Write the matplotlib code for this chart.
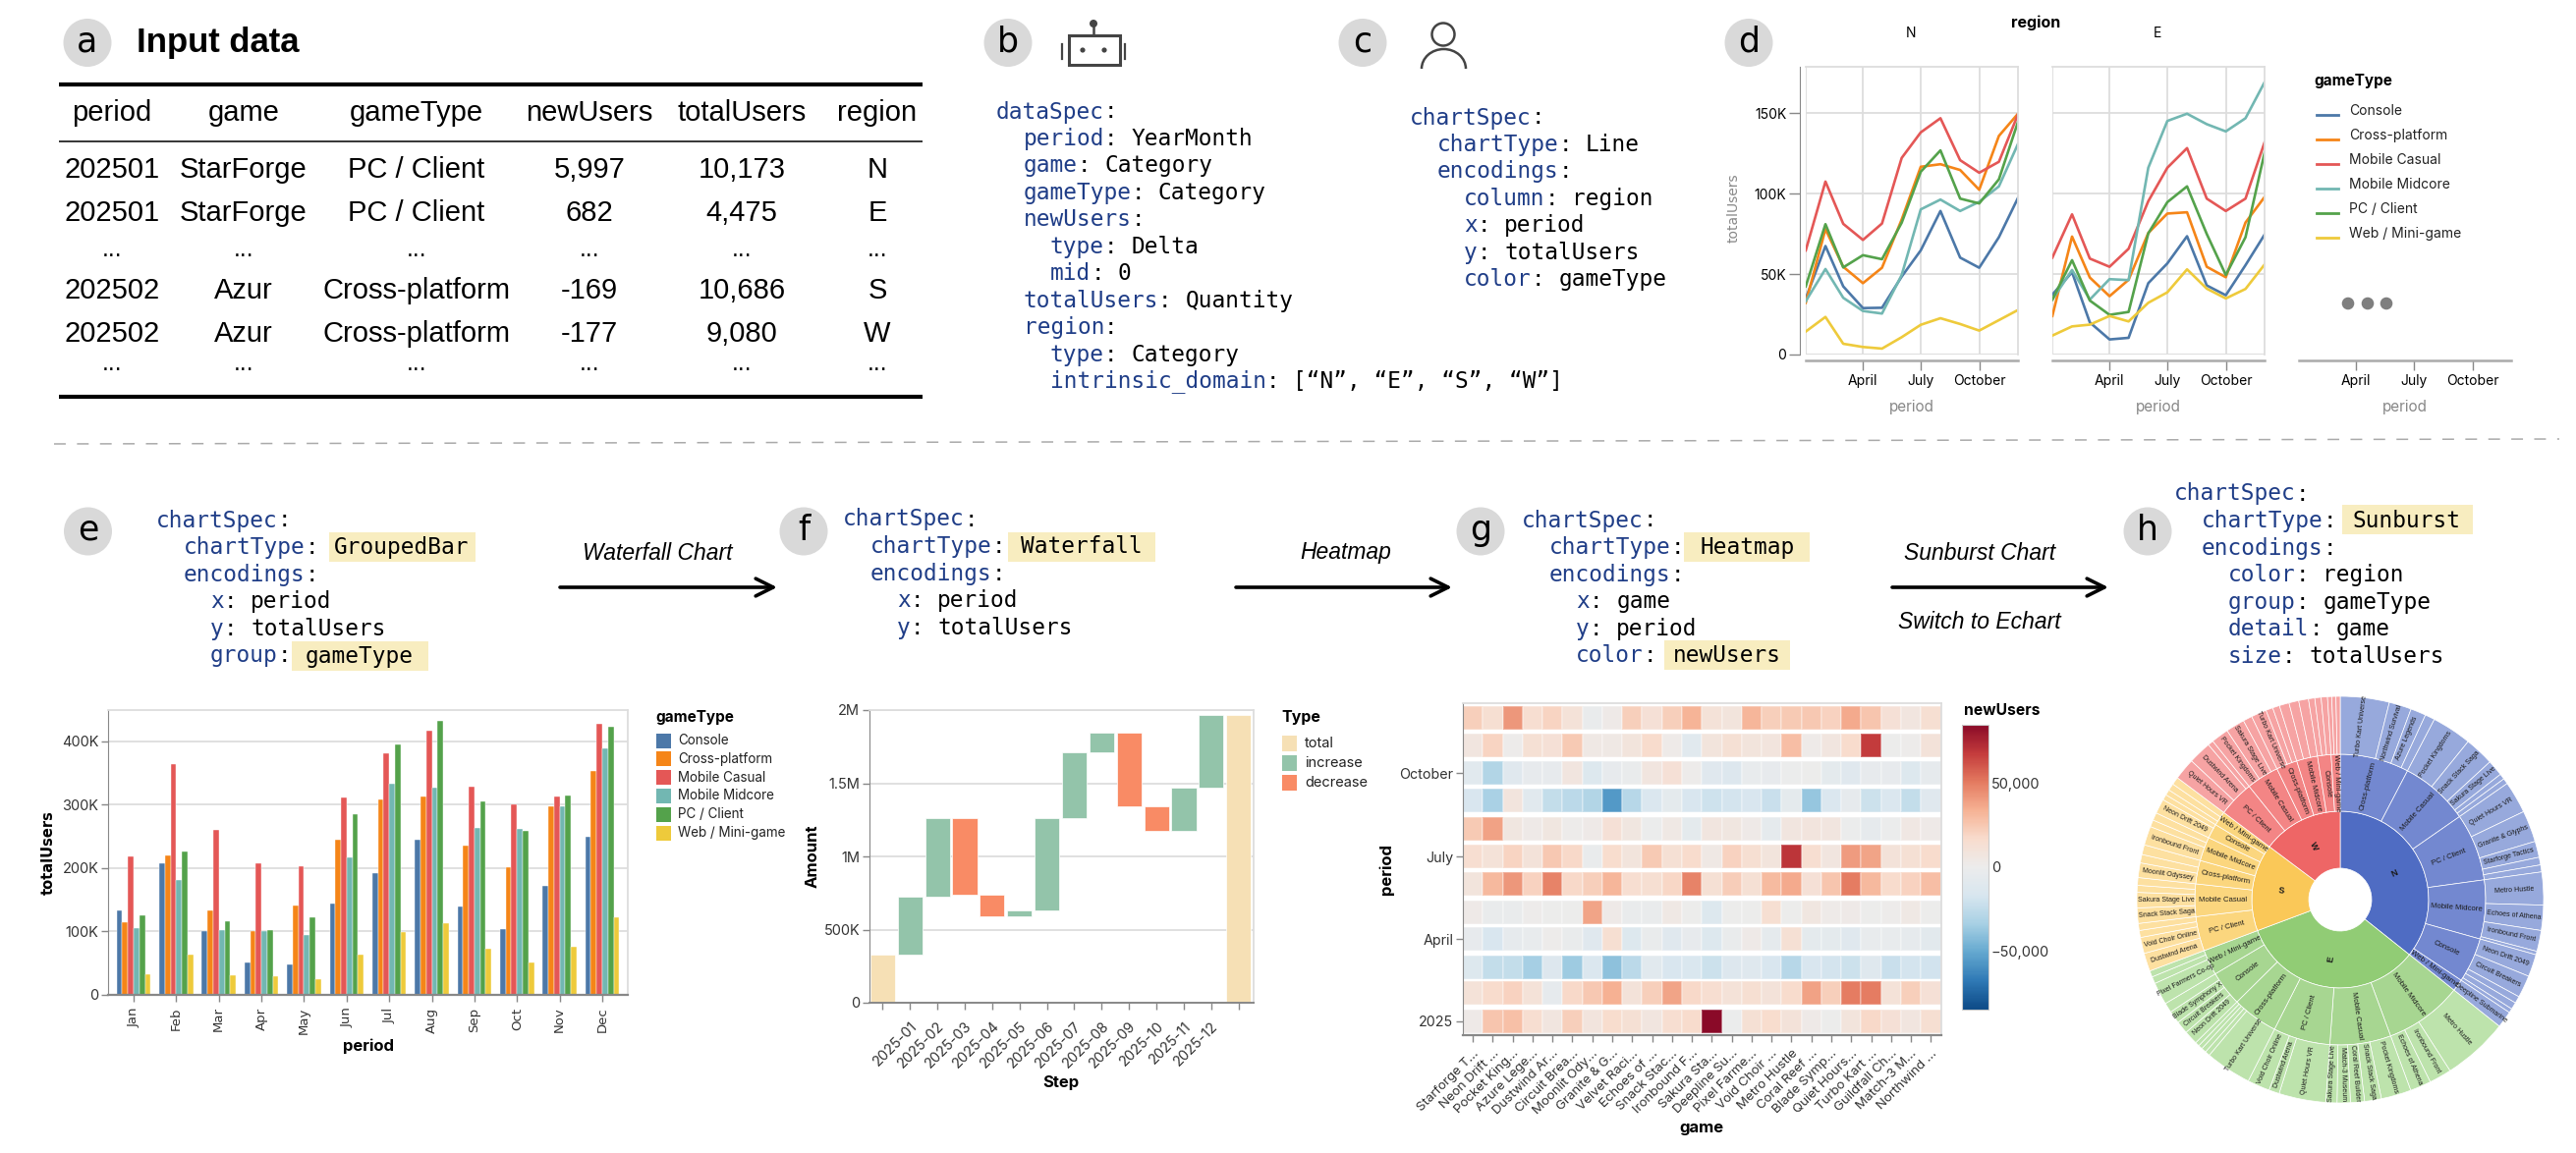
import numpy as np
import matplotlib
matplotlib.use("Agg")
from matplotlib import pyplot as plt
from matplotlib.patches import Circle, Rectangle, Arc
from matplotlib.colors import LinearSegmentedColormap, Normalize
from matplotlib.cm import ScalarMappable

W, H = 2622, 1174
plt.rcParams['font.family'] = ['Inter', 'DejaVu Sans']

# shared
month_days = [0, 31, 59, 90, 120, 151, 181, 212, 243, 273, 304, 334]
month_names = ["Jan", "Feb", "Mar", "Apr", "May", "Jun", "Jul", "Aug", "Sep", "Oct", "Nov", "Dec"]
game_types = ["Console", "Cross-platform", "Mobile Casual", "Mobile Midcore", "PC / Client", "Web / Mini-game"]
type_colors = ["#4c78a8", "#f58518", "#e45756", "#72b7b2", "#54a24b", "#eeca3b"]

# panel a
table_header = ["period", "game", "gameType", "newUsers", "totalUsers", "region"]
table_rows = [
    ["202501", "StarForge", "PC / Client", "5,997", "10,173", "N"],
    ["202501", "StarForge", "PC / Client", "682", "4,475", "E"],
    ["...", "...", "...", "...", "...", "..."],
    ["202502", "Azur", "Cross-platform", "-169", "10,686", "S"],
    ["202502", "Azur", "Cross-platform", "-177", "9,080", "W"],
    ["...", "...", "...", "...", "...", "..."],
]

# panel d, totalUsers in thousands
line_n = [
    [34.9, 67.5, 42.4, 28.9, 29.1, 48.5, 64.8, 89.3, 60.3, 54.0, 73.0, 97.4],
    [32.2, 78.0, 54.6, 44.4, 54.0, 84.0, 116.8, 118.4, 114.8, 102.5, 136.0, 149.8],
    [64.8, 107.6, 81.3, 71.3, 81.5, 122.3, 138.2, 147.0, 120.9, 113.1, 119.9, 149.4],
    [33.2, 53.2, 35.3, 27.1, 25.5, 49.5, 90.3, 96.4, 89.3, 95.0, 104.6, 131.0],
    [42.4, 81.1, 54.2, 61.8, 59.3, 82.0, 113.7, 127.0, 97.0, 94.0, 109.0, 144.7],
    [14.3, 23.4, 6.7, 4.7, 3.7, 10.8, 18.5, 22.6, 19.0, 14.9, 21.4, 27.7],
]
line_e = [
    [37.3, 51.2, 20.0, 9.4, 10.4, 44.4, 56.7, 73.6, 43.0, 36.9, 55.6, 74.6],
    [24.0, 73.4, 47.9, 36.3, 46.5, 75.6, 87.7, 88.5, 54.6, 48.1, 82.1, 98.0],
    [60.3, 87.2, 59.7, 54.6, 65.8, 95.4, 116.2, 128.4, 97.0, 89.3, 97.0, 132.0],
    [34.2, 52.6, 34.2, 46.9, 46.3, 116.2, 145.3, 149.8, 143.3, 138.8, 147.0, 169.4],
    [34.2, 58.7, 33.6, 24.7, 26.5, 75.4, 94.8, 104.6, 75.0, 49.5, 73.0, 125.6],
    [11.8, 17.5, 18.6, 24.0, 20.6, 32.2, 38.7, 53.0, 41.0, 34.9, 40.8, 56.0],
]

# panel e, totalUsers in thousands
bar_values = [
    [132.5, 207.5, 99.9, 51.7, 47.6, 143.9, 191.5, 244.8, 139.2, 103.0, 171.8, 249.4],
    [114.9, 219.9, 132.5, 101.4, 140.2, 245.3, 307.4, 312.0, 236.0, 201.3, 297.5, 352.4],
    [217.9, 363.8, 260.3, 207.5, 202.3, 311.0, 381.4, 417.0, 328.6, 300.6, 313.0, 426.9],
    [105.0, 181.6, 101.9, 99.9, 94.7, 217.3, 333.2, 327.0, 263.4, 261.3, 296.5, 389.1],
    [124.7, 226.1, 115.9, 101.9, 122.1, 284.6, 395.3, 432.0, 304.3, 258.7, 314.6, 423.3],
    [33.1, 63.1, 30.5, 29.0, 25.4, 63.1, 98.8, 112.8, 72.4, 51.7, 76.0, 122.1],
]

# panel f, amounts in thousands
wf_labels = ["", "2025-01", "2025-02", "2025-03", "2025-04", "2025-05", "2025-06", "2025-07",
             "2025-08", "2025-09", "2025-10", "2025-11", "2025-12", " "]
wf_start = 328
wf_deltas = [399, 535, -524, -147, 40, 634, 444, 138, -503, -170, 297, 495]
wf_kinds = ["total", "increase", "decrease"]
wf_colors = ["#f6e0b5", "#93c4aa", "#f98b65"]

# panel g, newUsers in thousands, one row per month from January
heat_games = ["Starforge T…", "Neon Drift …", "Pocket King…", "Azure Lege…", "Dustwind Ar…",
              "Circuit Brea…", "Moonlit Ody…", "Granite & G…", "Velvet Raci…", "Echoes of …",
              "Snack Stac…", "Ironbound F…", "Sakura Sta…", "Deepline Su…", "Pixel Farme…",
              "Void Choir …", "Metro Hustle", "Coral Reef …", "Blade Symp…", "Quiet Hours…",
              "Turbo Kart …", "Guildfall Ch…", "Match-3 M…", "Northwind …"]
heat_values = [
    [3, 26, 28, 15, 7, 22, 8, 16, 13, 7, 15, 17, 85, -1, 13, 16, 10, 3, 0, 9, 18, 12, 7, 14],
    [11, 17, 21, 11, -5, 18, 25, 34, 10, 22, 38, 18, 15, 11, 14, 10, 17, 39, 22, 50, 50, 11, 22, 12],
    [-12, -24, -24, -34, -13, -36, -14, -40, -27, -9, -16, -15, -21, -13, -11, -16, -28, -16, -18, -21, -11, -22, -18, -19],
    [-4, -16, -5, -3, 1, -2, -10, 14, -12, -2, -10, -4, -12, -2, 3, -6, 13, -7, -7, -10, -3, -3, -5, -8],
    [3, -2, -2, 1, 0, 0, 38, 3, -2, -2, 4, 0, -12, 0, 0, 14, 0, 6, 2, 3, 0, 1, 4, 0],
    [9, 31, 42, 21, 48, 18, 22, 32, 15, 14, 19, 48, 13, 23, 13, 30, 36, 12, 26, 50, 31, 17, 21, 29],
    [15, 11, 20, 10, 25, 18, -2, 16, 9, 24, 13, 17, 4, 21, 14, 9, 70, 15, 7, 41, 38, 10, 13, 17],
    [24, 39, 6, 3, 6, 1, 3, 12, 6, -1, 4, -7, 7, 6, 3, -6, 7, 8, 7, -1, -5, -1, 5, 3],
    [-16, -33, 8, -9, -24, -27, -30, -56, -28, -14, -7, -16, -20, -18, -16, -22, -7, -38, -14, -5, -21, -14, -24, -10],
    [-9, -30, -10, -4, -4, 7, -12, -4, -2, 7, 12, 1, -10, -13, -3, -4, -1, 0, -7, -10, -4, -4, -12, -5],
    [7, 20, 1, 13, 12, 24, 4, 4, 9, 17, 2, -9, 9, 13, 9, 8, 29, 2, 7, 17, 68, 0, 1, 10],
    [22, 14, 42, 15, 20, 11, -2, 3, 22, 12, 22, 33, 11, 9, 32, 22, 24, 25, 21, 36, 26, 12, 7, 14],
]

# panel h, totalUsers per game, grouped by gameType inside each region
sun_regions = ["N", "E", "S", "W"]
sun_colors = [["#4f6cc3", "#7388d0", "#97a9dc"], ["#91cc75", "#a7d691", "#bde3ac"],
              ["#fac858", "#fbd67e", "#fde0a0"], ["#ee6666", "#f38585", "#f6a3a3"]]
n_types = ["Cross-platform", "Mobile Casual", "PC / Client", "Mobile Midcore", "Console", "Web / Mini-game"]
n_games = [["Turbo Kart Universe", "Northwind Survival", "Azure Legends", ""],
           ["Pocket Kingdoms", "Snack Stack Saga", "Sakura Stage Live", "", ""],
           ["Quiet Hours VR", "Granite & Glyphs", "Starforge Tactics", "", ""],
           ["Metro Hustle", "Echoes of Athena", "Ironbound Front", ""],
           ["Neon Drift 2049", "Circuit Breakers", "", "", ""],
           ["Deepline Submarine"]]
n_values = [[70, 32, 22, 14], [57, 42, 23, 8, 8], [46, 45, 23, 11, 10], [47, 36, 30, 5], [32, 32, 10, 10, 6], [24]]
e_types = ["Mobile Midcore", "Mobile Casual", "PC / Client", "Cross-platform", "Console", "Web / Mini-game"]
e_games = [["Metro Hustle", "Ironbound Front", "Echoes of Athena"],
           ["Pocket Kingdoms", "Snack Stack Saga", "Coral Reef Builder", "Match-3 Museum", "Sakura Stage Live"],
           ["Quiet Hours VR", "Dustwind Arena", "Void Choir Online"],
           ["Turbo Kart Universe", "", "", "", ""],
           ["Neon Drift 2049", "Circuit Breakers", "Blade Symphony X", ""],
           ["Pixel Farmers Co-op", "", ""]]
e_values = [[94, 32, 30], [43, 24, 20, 19, 16], [67, 15, 32], [66, 7, 7, 6, 6], [20, 18, 18, 14], [32, 10, 9]]
s_types = ["PC / Client", "Mobile Casual", "Cross-platform", "Mobile Midcore", "Console", "Web / Mini-game"]
s_games = [["Dustwind Arena", "Void Choir Online", "", ""],
           ["Snack Stack Saga", "Sakura Stage Live", "", ""],
           ["Moonlit Odyssey", "", ""],
           ["Ironbound Front", "", ""],
           ["Neon Drift 2049", ""],
           ["", "", ""]]
s_values = [[26, 23, 10, 10], [22, 22, 10, 11], [21, 12, 14], [27, 10, 11], [21, 8], [8, 10, 11]]
w_types = ["PC / Client", "Mobile Casual", "Cross-platform", "Mobile Midcore", "Console", "Web / Mini-game"]
w_games = [["Quiet Hours VR", "Dustwind Arena", ""],
           ["Pocket Kingdoms", "Sakura Stage Live", ""],
           ["Turbo Kart Universe", "", ""],
           ["", "", ""], ["", "", ""], ["", "", ""]]
w_values = [[31, 33, 8], [25, 27, 13], [22, 10, 10], [14, 14, 14], [9, 9, 9], [6, 6, 6]]

KEY_BLUE = "#1f3d87"
HIGHLIGHT = "#f8edc0"
GRID = "#dddddd"
AXIS = "#888888"
CHAR_W = 13.75

fig = plt.figure(figsize=(W / 100, H / 100), dpi=100)
bg = fig.add_axes([0, 0, 1, 1])
bg.set_xlim(0, W)
bg.set_ylim(H, 0)
bg.axis("off")


def px_axes(left, top, right, bottom):
    return fig.add_axes([left / W, 1 - bottom / H, (right - left) / W, (bottom - top) / H])


def badge(x, y, letter):
    bg.add_patch(Circle((x, y), 24.5, color="#d9d9d9", lw=0))
    bg.text(x, y - 1, letter, fontsize=25, ha="center", va="center", family="DejaVu Sans")


def mono(x, y, text):
    bg.text(x, y, text, family="DejaVu Sans Mono", fontsize=16.4, va="center")


def code_block(x, y, lines, step=27.55):
    for i, (indent, key, value) in enumerate(lines):
        ty = y + i * step
        kx = x + indent * CHAR_W
        bg.text(kx, ty, key, family="DejaVu Sans Mono", fontsize=16.4, color=KEY_BLUE, va="center")
        mono(kx + len(key) * CHAR_W, ty, ":")
        if value:
            mono(kx + (len(key) + 2) * CHAR_W, ty, value)


def highlight(x0, x1, y0, y1):
    bg.add_patch(Rectangle((x0, y0), x1 - x0, y1 - y0, color=HIGHLIGHT, lw=0))


def arrow(x0, x1, y):
    bg.annotate("", xy=(x1, y), xytext=(x0, y),
                arrowprops=dict(arrowstyle="->", lw=2.6, mutation_scale=32, color="black", shrinkA=0, shrinkB=0))


def step_label(x, y, text):
    bg.text(x, y, text, family="Liberation Sans", style="italic", fontsize=16.5, ha="center", va="center")


def frame(ax):
    for side in ["top", "right"]:
        ax.spines[side].set_color(GRID)
        ax.spines[side].set_linewidth(1.3)


# ---- panel a
badge(89, 43.5, "a")
bg.text(139, 43, "Input data", family="Liberation Sans", weight="bold", fontsize=25, va="center")
col_x = [114, 248, 424, 600, 755, 893]
row_y = [173, 217, 254, 296, 340, 370]
for x, label in zip(col_x, table_header):
    bg.text(x, 115, label, family="Liberation Sans", fontsize=21, ha="center", va="center")
for y, row in zip(row_y, table_rows):
    for x, cell in zip(col_x, row):
        bg.text(x, y, cell, family="Liberation Sans", fontsize=18 if cell == "..." else 21, ha="center", va="center")
bg.plot([60, 939], [86, 86], color="black", lw=3, solid_capstyle="butt")
bg.plot([60, 939], [144, 144], color="black", lw=1.1, solid_capstyle="butt")
bg.plot([60, 939], [404, 404], color="black", lw=3, solid_capstyle="butt")

# ---- panel b and c
badge(1026, 43.5, "b")
icon = "#444444"
bg.add_patch(Rectangle((1088, 36), 52, 30, fill=False, ec=icon, lw=2.2))
bg.plot([1113, 1113], [24, 36], color=icon, lw=1.8)
bg.add_patch(Circle((1113, 24), 4, color=icon, lw=0))
for ex in [1102, 1124]:
    bg.add_patch(Circle((ex, 51), 2.6, color=icon, lw=0))
for ex in [1081, 1145]:
    bg.plot([ex, ex], [45, 60], color=icon, lw=1.6)

code_block(1014, 114, [
    (0, "dataSpec", ""), (2, "period", "YearMonth"), (2, "game", "Category"), (2, "gameType", "Category"),
    (2, "newUsers", ""), (4, "type", "Delta"), (4, "mid", "0"), (2, "totalUsers", "Quantity"), (2, "region", ""),
    (4, "type", "Category"), (4, "intrinsic_domain", "[“N”, “E”, “S”, “W”]"),
], step=27.45)

badge(1387, 43.5, "c")
bg.add_patch(Circle((1469, 35), 11.5, fill=False, ec=icon, lw=1.8))
bg.add_patch(Arc((1469.5, 70), 45, 40, theta1=180, theta2=360, ec=icon, lw=1.8))
code_block(1435, 120, [
    (0, "chartSpec", ""), (2, "chartType", "Line"), (2, "encodings", ""), (4, "column", "region"),
    (4, "x", "period"), (4, "y", "totalUsers"), (4, "color", "gameType"),
], step=27.45)

# ---- panel d
badge(1780, 43.5, "d")
bg.text(2072, 23, "region", weight="bold", fontsize=11.5, ha="center", va="center")
bg.text(1945, 34, "N", fontsize=10, ha="center", va="center")
bg.text(2196, 34, "E", fontsize=10, ha="center", va="center")
d_ticks = [90, 181, 273]
d_tick_labels = ["April", "July", "October"]
for k, (box, data) in enumerate([((1838, 68, 2054, 361), line_n), ((2089, 68, 2305, 361), line_e),
                                 ((2340, 68, 2556, 361), None)]):
    ax = px_axes(*box)
    ax.set_xlim(0, 334)
    ax.set_ylim(0, 179)
    ax.set_xticks(d_ticks)
    ax.set_xticklabels(d_tick_labels, fontsize=10.5, color="#333333")
    ax.tick_params(axis="x", length=7.5, width=1, color=AXIS, pad=3)
    ax.spines["bottom"].set_position(("outward", 4.2))
    ax.spines["bottom"].set_color("#aaaaaa")
    ax.spines["bottom"].set_linewidth(1.8)
    ax.set_xlabel("period", fontsize=11, color=AXIS, va="center")
    ax.xaxis.set_label_coords(box[0] + 108, 414, transform=bg.transData)
    if data is None:
        # empty facet, the bg dots must stay visible through it
        ax.patch.set_visible(False)
        for side in ["left", "top", "right"]:
            ax.spines[side].set_visible(False)
        ax.set_yticks([])
        continue
    ax.set_yticks([0, 50, 100, 150])
    ax.grid(color=GRID, lw=1.3)
    ax.set_axisbelow(True)
    frame(ax)
    ax.axhline(0, color=GRID, lw=1.3)
    ax.axvline(0, color=GRID, lw=1.3)
    for values, color in zip(data, type_colors):
        ax.plot(month_days, values, color=color, lw=1.9)
    if k == 0:
        ax.set_yticklabels(["0", "50K", "100K", "150K"], fontsize=10, color="#333333")
        ax.spines["left"].set_position(("outward", 4.2))
        ax.spines["left"].set_color(AXIS)
        ax.tick_params(axis="y", length=8, width=1, color=AXIS, pad=2)
        ax.set_ylabel("totalUsers", family="DejaVu Sans", fontsize=10, color=AXIS, va="center")
        ax.yaxis.set_label_coords(1765, 212, transform=bg.transData)
    else:
        ax.spines["left"].set_visible(False)
        ax.tick_params(axis="y", length=0, labelleft=False)
bg.text(2355.5, 82, "gameType", weight="bold", fontsize=11, va="center")
for i, (name, color) in enumerate(zip(game_types, type_colors)):
    y = 113 + i * 25
    bg.plot([2358, 2380], [y + 4, y + 4], color=color, lw=2)
    bg.text(2391, y, name, fontsize=10, color="#222222", va="center")
for dx in [2390, 2410, 2429]:
    bg.add_patch(Circle((dx, 309), 6.3, color="#7f7f7f", lw=0))

bg.plot([55, 2605], [452, 447], color="#aaaaaa", lw=1.1, ls=(0, (7.8, 7.5)))

# ---- panel e
badge(89.5, 541, "e")
highlight(335, 484, 542, 572)
highlight(297, 436, 653, 683)
code_block(159, 530, [
    (0, "chartSpec", ""), (2, "chartType", ""), (2, "encodings", ""), (4, "x", "period"),
    (4, "y", "totalUsers"), (4, "group", ""),
])
mono(340, 557.5, "GroupedBar")
mono(311, 668, "gameType")
arrow(570, 791, 598)
step_label(669, 563, "Waterfall Chart")

ax = px_axes(110, 723, 639, 1013)
bar_w = 0.133
for i, (values, color, name) in enumerate(zip(bar_values, type_colors, game_types)):
    ax.bar(np.arange(12) + (i - 2.5) * bar_w, values, bar_w, color=color, label=name, ec="white", lw=0.3)
ax.set_xlim(-0.6, 11.6)
ax.set_ylim(0, 449)
ax.set_xticks(np.arange(12))
ax.set_xticklabels(month_names, rotation=90, family="DejaVu Sans", fontsize=9.5, color="#333333")
ax.set_yticks([0, 100, 200, 300, 400])
ax.set_yticklabels(["0", "100K", "200K", "300K", "400K"], fontsize=10.5, color="#333333")
ax.grid(axis="y", color=GRID, lw=1.3)
ax.set_axisbelow(True)
frame(ax)
ax.spines["bottom"].set_color(AXIS)
ax.spines["bottom"].set_linewidth(1.6)
ax.spines["left"].set_color(AXIS)
ax.tick_params(length=5, width=1, color=AXIS, pad=2)
ax.tick_params(axis="x", pad=4)
ax.set_xlabel("period", weight="bold", fontsize=12, va="center")
ax.xaxis.set_label_coords(375, 1065, transform=bg.transData)
ax.set_ylabel("totalUsers", weight="bold", family="DejaVu Sans", fontsize=10.5, va="center")
ax.yaxis.set_label_coords(49.5, 868, transform=bg.transData)
bg.text(667, 731, "gameType", weight="bold", fontsize=11, va="center")
for i, (name, color) in enumerate(zip(game_types, type_colors)):
    y = 754 + i * 18.8
    bg.add_patch(Rectangle((668, y - 7.5), 15, 15, color=color, lw=0))
    bg.text(690, y, name, fontsize=9.7, color="#222222", va="center")

# ---- panel f
badge(818, 541, "f")
highlight(1026, 1175.5, 542, 572)
code_block(858, 529, [
    (0, "chartSpec", ""), (2, "chartType", ""), (2, "encodings", ""), (4, "x", "period"), (4, "y", "totalUsers"),
])
mono(1039, 556.5, "Waterfall")
arrow(1258, 1478, 598)
step_label(1370, 563, "Heatmap")

ax = px_axes(885, 723, 1275.5, 1021)
running = wf_start + np.cumsum(wf_deltas)
starts = np.concatenate(([wf_start], running[:-1]))
ax.bar(0, wf_start, 0.9, color=wf_colors[0], ec="white", lw=0.5)
for i, (s, d) in enumerate(zip(starts, wf_deltas)):
    ax.bar(i + 1, abs(d), 0.9, bottom=min(s, s + d), color=wf_colors[1] if d > 0 else wf_colors[2], ec="white", lw=0.5)
ax.bar(13, running[-1], 0.9, color=wf_colors[0], ec="white", lw=0.5)
ax.set_xlim(-0.48, 13.53)
ax.set_ylim(0, 2000)
ax.set_xticks(np.arange(14))
ax.set_xticklabels(wf_labels, rotation=45, ha="right", rotation_mode="anchor", fontsize=10.5, color="#333333")
ax.set_yticks([0, 500, 1000, 1500, 2000])
ax.set_yticklabels(["0", "500K", "1M", "1.5M", "2M"], fontsize=10.5, color="#333333")
ax.grid(axis="y", color=GRID, lw=1.3)
ax.set_axisbelow(True)
frame(ax)
ax.spines["bottom"].set_color(AXIS)
ax.spines["bottom"].set_linewidth(1.4)
ax.spines["left"].set_color(AXIS)
ax.tick_params(length=5, width=1, color=AXIS, pad=2)
ax.tick_params(axis="x", pad=7)
ax.set_xlabel("Step", weight="bold", fontsize=12, va="center")
ax.xaxis.set_label_coords(1080, 1103, transform=bg.transData)
ax.set_ylabel("Amount", weight="bold", fontsize=12, va="center")
ax.yaxis.set_label_coords(827, 872, transform=bg.transData)
bg.text(1304, 730, "Type", weight="bold", fontsize=11.5, va="center")
for i, (name, color) in enumerate(zip(wf_kinds, wf_colors)):
    y = 757 + i * 20.2
    bg.add_patch(Rectangle((1304.5, y - 8), 15.5, 16, color=color, lw=0))
    bg.text(1328, y, name, fontsize=10.5, color="#222222", va="center")

# ---- panel g
badge(1507, 541, "g")
highlight(1714, 1842, 542, 572)
highlight(1694, 1822, 652, 682)
code_block(1549, 530, [
    (0, "chartSpec", ""), (2, "chartType", ""), (2, "encodings", ""), (4, "x", "game"), (4, "y", "period"),
    (4, "color", ""),
])
mono(1730, 557.5, "Heatmap")
mono(1702.5, 668, "newUsers")
arrow(1926, 2146, 598)
step_label(2015, 563, "Sunburst Chart")
step_label(2015, 633, "Switch to Echart")

heat_cmap = LinearSegmentedColormap.from_list("redblue", [
    "#0d4a87", "#2f79b5", "#64a8cf", "#a7d0e4", "#d8e6ef", "#ececec",
    "#f8dccd", "#f6b294", "#e47a60", "#c43c3c", "#8a0a28"])
heat_norm = Normalize(-85000, 85000)
ax = px_axes(1489, 716, 1975.5, 1054)
col_edges = np.arange(25) - 0.5
for day, row in zip(month_days, heat_values):
    ax.pcolormesh(col_edges, [day - 13, day + 13], np.array(row, ndmin=2) * 1000, cmap=heat_cmap, norm=heat_norm,
                  edgecolors="#ffffff40", linewidth=0.3)
ax.set_xlim(-0.5, 23.5)
ax.set_ylim(-15.5, 350)
ax.set_xticks(np.arange(24))
ax.set_xticklabels(heat_games, rotation=45, ha="right", rotation_mode="anchor", fontsize=9.6, color="#333333")
ax.set_yticks([0, 90, 181, 273])
ax.set_yticklabels(["2025", "April", "July", "October"], fontsize=10.3, color="#333333")
frame(ax)
ax.spines["bottom"].set_color(AXIS)
ax.spines["bottom"].set_linewidth(1.6)
ax.spines["left"].set_color(AXIS)
ax.tick_params(length=5, width=1, color=AXIS, pad=2)
ax.tick_params(axis="x", pad=4)
ax.set_xlabel("game", weight="bold", fontsize=12, va="center")
ax.xaxis.set_label_coords(1732, 1149, transform=bg.transData)
ax.set_ylabel("period", weight="bold", fontsize=12, va="center")
ax.yaxis.set_label_coords(1411, 885, transform=bg.transData)
bg.text(1999, 723, "newUsers", weight="bold", fontsize=11.3, va="center")
cax = px_axes(1997, 738, 2024, 1028)
cb = fig.colorbar(ScalarMappable(norm=heat_norm, cmap=heat_cmap), cax=cax)
cb.set_ticks([-50000, 0, 50000])
cb.set_ticklabels(["−50,000", "0", "50,000"], fontsize=10.5, color="#333333")
cb.ax.tick_params(length=0, pad=2)
cb.outline.set_edgecolor("#cccccc")

# ---- panel h
badge(2186, 541, "h")
highlight(2384, 2517, 514, 544)
code_block(2213, 503, [
    (0, "chartSpec", ""), (2, "chartType", ""), (2, "encodings", ""), (4, "color", "region"),
    (4, "group", "gameType"), (4, "detail", "game"), (4, "size", "totalUsers"),
])
mono(2394, 530.5, "Sunburst")

sun_ax = px_axes(2382 - 212, 916 - 212, 2382 + 212, 916 + 212)
region_types = [n_types, e_types, s_types, w_types]
region_games = [n_games, e_games, s_games, w_games]
region_values = [n_values, e_values, s_values, w_values]
R1, R2, R3, R4 = 32, 90, 148, 207


def radial_text(r, mid_deg, text, size, **kw):
    rad = np.deg2rad(90 - mid_deg)
    rot = 90 - mid_deg if mid_deg < 180 else 270 - mid_deg
    sun_ax.text(r * np.cos(rad), r * np.sin(rad), text, rotation=rot, rotation_mode="anchor", ha="center", va="center",
                family="Liberation Sans", fontsize=size, color="#1a1a1a", clip_on=False, **kw)


def ring(values, colors, r_in, r_out):
    sun_ax.pie(values, colors=colors, radius=r_out, startangle=90, counterclock=False,
               wedgeprops=dict(width=r_out - r_in, edgecolor="white", linewidth=0.5))


ring1 = [sum(sum(g) for g in vals) for vals in region_values]
ring2 = [sum(g) for vals in region_values for g in vals]
ring3 = [v for vals in region_values for g in vals for v in g]
ring(ring1, [c[0] for c in sun_colors], R1, R2)
ring(ring2, [c[1] for c, vals in zip(sun_colors, region_values) for g in vals], R2, R3)
ring(ring3, [c[2] for c, vals in zip(sun_colors, region_values) for g in vals for v in g], R3, R4)
sun_ax.set_xlim(-212, 212)
sun_ax.set_ylim(-212, 212)

total = sum(ring1)
pos = 0
for name, types, games, vals in zip(sun_regions, region_types, region_games, region_values):
    region_total = sum(sum(g) for g in vals)
    radial_text((R1 + R2) / 2, (pos + region_total / 2) / total * 360, name, 6.5, weight="bold")
    for tname, tgames, tvals in zip(types, games, vals):
        radial_text((R2 + R3) / 2, (pos + sum(tvals) / 2) / total * 360, tname, 5.6)
        for gname, v in zip(tgames, tvals):
            if gname:
                radial_text((R3 + R4) / 2, (pos + v / 2) / total * 360, gname, 5)
            pos += v

fig.savefig("out.png", dpi=100)
